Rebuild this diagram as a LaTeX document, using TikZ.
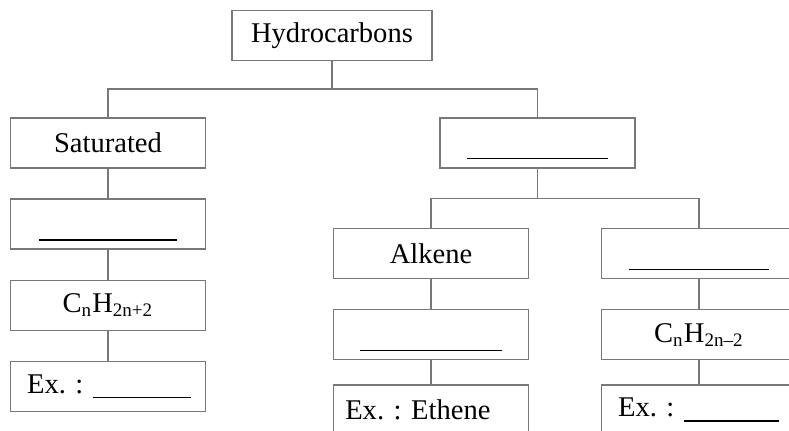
\documentclass[tikz,border=0pt]{standalone}
\usepackage{fontspec}
\setmainfont{Liberation Serif}
\usetikzlibrary{positioning}
\definecolor{framegray}{RGB}{120,120,120}

\newcommand{\blankline}[1]{\strut\rule[-4pt]{#1}{0.5pt}}

\begin{document}
\frenchspacing
\begin{tikzpicture}
  [x=0.42pt,y=-0.42pt,
   boxN/.style={rectangle,draw=framegray,line width=0.6pt,minimum width=82pt,
     minimum height=21pt,inner sep=0pt,font=\fontsize{12}{14.5}\selectfont},
   exN/.style={boxN,text width=76pt,align=left},
   link/.style={draw=framegray,line width=0.6pt},
   node distance=12.5pt]

  \useasboundingbox (0,0) rectangle (789,431);
  \clip (0,0) rectangle (789,431);

  \node[boxN,minimum width=84pt] (hc) at (332,35.5) {Hydrocarbons};

  \node[boxN] (sat) at (108,143) {Saturated};
  \node[boxN] (unsat) at (537.5,143) {\blankline{59pt}};

  \draw[link] (hc.south) -- ++(0,28) coordinate (hcjoin);
  \draw[link] (sat.north) |- (hcjoin) -| (unsat.north);

  % saturated branch
  \node[boxN] (satname) [below=of sat] {\blankline{58pt}}
    edge [link] (sat);

  \node[boxN] (satform) [below=of satname] {C\textsubscript{n}H\textsubscript{2n+2}}
    edge [link] (satname);

  \node[exN] (satex) [below=of satform] {\hspace{4pt}Ex.~:~\rule[-2pt]{41pt}{0.6pt}}
    edge [link] (satform);

  % unsaturated branch
  \node[boxN] (alkene) at (431,253.5) {Alkene};
  \node[boxN] (alkyne) at (699,253.5) {\blankline{59pt}};

  \draw[link] (unsat.south) -- ++(0,30) coordinate (unsatjoin);
  \draw[link] (alkene.north) |- (unsatjoin) -| (alkyne.north);

  \node[boxN] (alkform) [below=of alkene] {\blankline{60pt}}
    edge [link] (alkene);

  \node[exN] (alkex) [below=10pt of alkform] {\hspace{2pt}Ex.~:~Ethene}
    edge [link] (alkform);

  \node[boxN] (alkyform) [below=of alkyne] {C\textsubscript{n}H\textsubscript{2n--2}}
    edge [link] (alkyne);

  \node[exN] (alkyex) [below=10pt of alkyform] {\hspace{4pt}Ex.~:~\rule[-2pt]{40pt}{0.6pt}}
    edge [link] (alkyform);

\end{tikzpicture}
\end{document}
